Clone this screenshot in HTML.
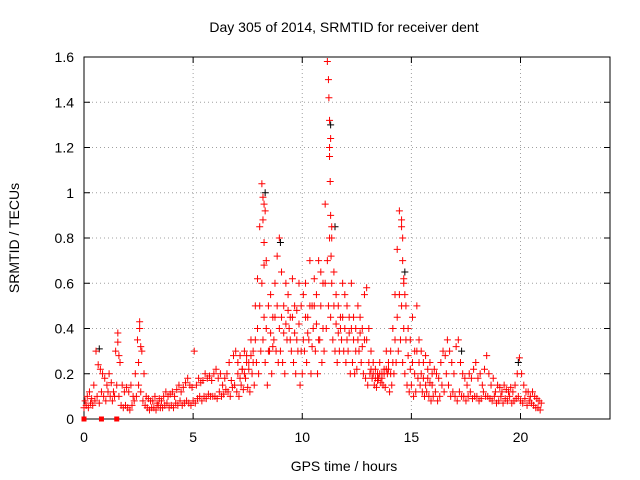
<!DOCTYPE html>
<html><head><meta charset="utf-8"><style>
body{margin:0;background:#fff}
svg{display:block;font-family:"Liberation Sans",sans-serif}
</style></head><body>
<svg id="c" width="640" height="480"></svg>
<script>
const tickX=[0,5,10,15,20];
const tickY=[0,0.2,0.4,0.6,0.8,1,1.2,1.4,1.6];
const tickYLabels=["0","0.2","0.4","0.6","0.8","1","1.2","1.4","1.6"];
const valsA=[.05,.06,.05,.07,.06,.08,.1,.07,.12,.1,.08,.12,.1,.08,.1,.15,.1,.06,.05,.06,.05,.04,.06,.08,.1,.15,.12,.08,.06,.05,.04,.05,.05,.04,.06,.05,.05,.06,.07,.05,.06,.05,.07,.06,.08,.06,.07,.08,.07,.06,.08,.07,.09,.1,.08,.1,.09,.11,.1,.1,.1,.09,.12,.1,.11,.13,.12,.1,.14,.15,.12,.1,.15,.13,.18,.14,.12,.2,.15,.25,.2,.3,.35,.25,.15,.3,.2,.35,.3,.25,.3,.25,.2,.35,.4,.3,.25,.2,.3,.15,.2,.3,.25,.35,.2,.4,.3,.2,.35,.25,.3,.4,.5,.45,.35,.3,.25,.3,.35,.3,.25,.3,.2,.25,.2,.22,.3,.25,.2,.18,.15,.2,.18,.15,.14,.18,.16,.15,.14,.2,.12,.15,.2,.25,.3,.35,.25,.2,.15,.12,.15,.1,.12,.18,.15,.12,.1,.12,.1,.08,.1,.12,.08,.1,.15,.12,.2,.15,.1,.12,.1,.08,.12,.1,.1,.08,.1,.12,.09,.1,.1,.08,.09,.12,.1,.1,.09,.08,.1,.07,.08,.1,.07,.09,.08,.1,.07,.08,.09,.1,.08,.07,.09,.06,.08,.07,.06,.05,.05,.04];
const valsB=[.08,.1,.12,.09,.15,.3,.24,.22,.2,.18,.15,.2,.16,.12,.3,.38,.25,.15,.12,.14,.12,.15,.1,.2,.35,.43,.3,.2,.1,.09,.08,.08,.1,.07,.09,.08,.1,.12,.1,.11,.12,.1,.13,.15,.12,.14,.16,.18,.15,.14,.3,.15,.18,.16,.17,.2,.18,.19,.17,.2,.22,.18,.2,.15,.18,.2,.25,.17,.28,.3,.25,.28,.22,.3,.28,.25,.35,.3,.5,.62,.85,1.04,.95,.7,.5,.55,.45,.6,.72,.8,.65,.5,.6,.55,.45,.62,.5,.48,.6,.5,.55,.6,.45,.7,.5,.62,.55,.7,.65,.6,.95,1.58,1.2,.8,.65,.55,.5,.45,.6,.55,.5,.45,.6,.45,.4,.5,.45,.4,.55,.58,.4,.3,.25,.22,.2,.25,.2,.22,.3,.25,.3,.4,.55,.75,.92,.85,.6,.5,.4,.35,.45,.3,.5,.35,.3,.25,.28,.22,.25,.2,.22,.2,.18,.25,.3,.28,.35,.3,.25,.2,.32,.35,.25,.2,.18,.15,.2,.18,.22,.25,.18,.2,.15,.22,.28,.2,.15,.18,.12,.15,.14,.12,.15,.13,.12,.14,.12,.15,.2,.27,.2,.15,.12,.12,.1,.12,.1,.09,.08,.07];
const valsC=[.2,.18,.22,.2,.25,.22,.28,.25,.35,.4,.5,.6,.45,.4,.3,.38,.32,.45,.5,.4,.45,.38,.42,.48,.35,.45,.38,.35,.42,.3,.35,.45,.38,.5,.32,.5,.42,.35,.5,.4,.6,.7,.8,.6,.5,.42,.38,.4,.45,.4,.35,.38,.4,.35,.3,.35,.38,.32,.35,.35,.25,.22,.2,.18,.17,.2,.18,.2,.22,.22,.2,.25,.35,.45,.55,.5,.4,.35,.28,.22,.25,.2,.3,.25,.2,.18,.15,.18,.16,.15];
const spikeT=[8.2,8.2,8.25,8.25,8.3,11.2,11.22,11.25,11.25,11.28,11.3,11.3,11.32,11.35,14.55,14.6,14.6,14.65,14.7,1.55,1.6,2.55,2.6,2.5];
const spikeV=[0.98,0.88,0.78,0.68,0.92,1.5,1.42,1.32,1.16,1.05,0.9,1.24,0.72,0.85,0.88,0.8,0.7,0.62,0.55,0.34,0.28,0.4,0.32,0.25];
const blackT=[0.7,8.3,9.0,11.3,11.5,14.7,17.3,19.9];
const blackV=[0.31,1.0,0.78,1.3,0.85,0.65,0.3,0.25];
const zeroTimes=[0,0.8,1.5];

const L=84,R=610,T=57,B=419;
const xs=t=>L+t*(R-L)/24.1;
const ys=v=>B-v*(B-T)/1.6;
const svg=document.getElementById('c');
const NS='http://www.w3.org/2000/svg';
function mk(tag,attrs,parent){const e=document.createElementNS(NS,tag);for(const k in attrs)e.setAttribute(k,attrs[k]);(parent||svg).appendChild(e);return e;}

tickY.forEach((v,i)=>{
  const y=ys(v);
  if(i>0&&i<tickY.length-1){const g=mk('line',{x1:L,x2:R,y1:y,y2:y,stroke:'#a0a0a0','stroke-dasharray':'1,3'});
  
  }
  mk('line',{x1:L,x2:L+6,y1:y,y2:y,stroke:'#000'});
  mk('line',{x1:R,x2:R-6,y1:y,y2:y,stroke:'#000'});
  const t=mk('text',{x:L-10,y:y+5,'text-anchor':'end','font-size':14});t.textContent=tickYLabels[i];
  
  
});
tickX.forEach(v=>{
  const x=xs(v);
  if(v>0){const g=mk('line',{x1:x,x2:x,y1:T,y2:B,stroke:'#a0a0a0','stroke-dasharray':'1,3'});
  
  }
  mk('line',{x1:x,x2:x,y1:B,y2:B-6,stroke:'#000'});
  mk('line',{x1:x,x2:x,y1:T,y2:T+6,stroke:'#000'});
  const t=mk('text',{x:x,y:B+23,'text-anchor':'middle','font-size':14});t.textContent=String(v);
  
  
});
const frame=mk('rect',{x:L,y:T,width:R-L,height:B-T,fill:'none',stroke:'#000'});



function plus(t,v,col){
  const x=xs(t),y=ys(v);
  const p=mk('path',{d:`M${x-3.5},${y}h7M${x},${y-3.5}v7`,stroke:col,'stroke-width':1,fill:'none'});
  
  
}
blackT.forEach((t,i)=>plus(t,blackV[i],'#000'));
valsA.forEach((v,i)=>plus(i*0.1,v,'#f00'));
valsB.forEach((v,i)=>plus(i*0.1+0.05,v,'#f00'));
valsC.forEach((v,i)=>plus(7.05+i*0.1,v,'#f00'));
spikeT.forEach((t,i)=>plus(t,spikeV[i],'#f00'));
zeroTimes.forEach(t=>{
  const r=mk('rect',{x:xs(t)-2.5,y:ys(0)-2.5,width:5,height:5,fill:'#f00'});
  
  
});

const title=mk('text',{x:344,y:32,'text-anchor':'middle','font-size':14});title.textContent='Day 305 of 2014, SRMTID for receiver dent';


const xt=mk('text',{x:344,y:471,'text-anchor':'middle','font-size':14});xt.textContent='GPS time / hours';


const yt=mk('text',{x:19,y:238,'text-anchor':'middle','font-size':14,transform:'rotate(-90 19 238)'});yt.textContent='SRMTID / TECUs';


</script>
</body></html>
